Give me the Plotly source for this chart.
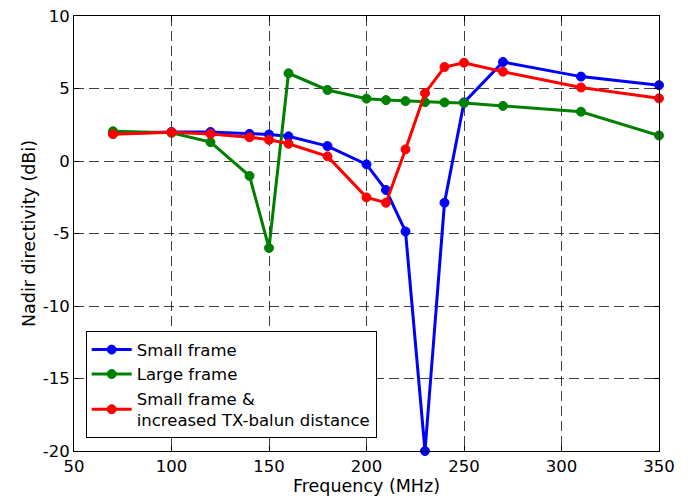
import plotly.graph_objects as go

freq_small = [70, 100, 120, 140, 150, 160, 180, 200, 210, 220, 230, 240, 250, 270, 310, 350]
small_frame = [1.9, 2.0, 2.0, 1.87, 1.83, 1.7, 1.03, -0.23, -2.0, -4.86, -20.0, -2.88, 4.04, 6.83, 5.82, 5.23]

freq_large = [70, 100, 120, 140, 150, 160, 180, 200, 210, 220, 230, 240, 250, 270, 310, 350]
large_frame = [2.05, 1.94, 1.3, -1.03, -6.0, 6.05, 4.9, 4.3, 4.2, 4.13, 4.06, 4.04, 4.0, 3.8, 3.4, 1.76]

freq_balun = [70, 100, 120, 140, 150, 160, 180, 200, 210, 220, 230, 240, 250, 270, 310, 350]
small_balun = [1.85, 1.98, 1.87, 1.64, 1.46, 1.19, 0.32, -2.51, -2.88, 0.8, 4.68, 6.48, 6.78, 6.16, 5.07, 4.32]

x_ticks = [50, 100, 150, 200, 250, 300, 350]
y_ticks = [-20, -15, -10, -5, 0, 5, 10]

series = [
    ("Small frame", freq_small, small_frame, "#0000ff"),
    ("Large frame", freq_large, large_frame, "#008000"),
    ("Small frame &<br>increased TX-balun distance", freq_balun, small_balun, "#ff0000"),
]

fig = go.Figure()
for name, xs, ys, col in series:
    fig.add_trace(go.Scatter(
        x=xs, y=ys, name=name, mode="lines+markers",
        line=dict(color=col, width=3),
        marker=dict(color=col, size=9, line=dict(color=col, width=1)),
        cliponaxis=False,
    ))

font_family = "DejaVu Sans, Verdana, sans-serif"
axis_common = dict(
    showline=True, linecolor="black", linewidth=1, mirror="ticks",
    ticks="inside", ticklen=5, tickcolor="black",
    showgrid=True, gridcolor="rgba(0,0,0,0.75)", gridwidth=1, griddash="10px,5px",
    zeroline=False, automargin=False, ticklabeloverflow="allow",
    tickfont=dict(family=font_family, size=16.5, color="black"),
)

fig.update_xaxes(
    range=[50, 350], tickvals=x_ticks, ticktext=[str(v) for v in x_ticks],
    title=dict(text="Frequency (MHz)", font=dict(family=font_family, size=17.5, color="black"), standoff=0),
    **axis_common,
)
fig.update_yaxes(
    range=[-20, 10], tickvals=y_ticks, ticktext=[str(v) for v in y_ticks],
    title=dict(text="Nadir directivity (dBi)", font=dict(family=font_family, size=17.5, color="black"), standoff=2),
    **axis_common,
)

fig.update_layout(
    width=687, height=493,
    margin=dict(l=66, r=36, t=8, b=50),
    plot_bgcolor="white", paper_bgcolor="white",
    font=dict(family=font_family, size=16, color="black"),
    showlegend=True,
    legend=dict(
        x=0.02, y=0.275, xanchor="left", yanchor="top",
        bgcolor="white", bordercolor="black", borderwidth=1,
        font=dict(family=font_family, size=16.5, color="black"),
        tracegroupgap=0, itemwidth=40,
        entrywidth=314, entrywidthmode="pixels",
    ),
)

fig.write_html("out.html")
